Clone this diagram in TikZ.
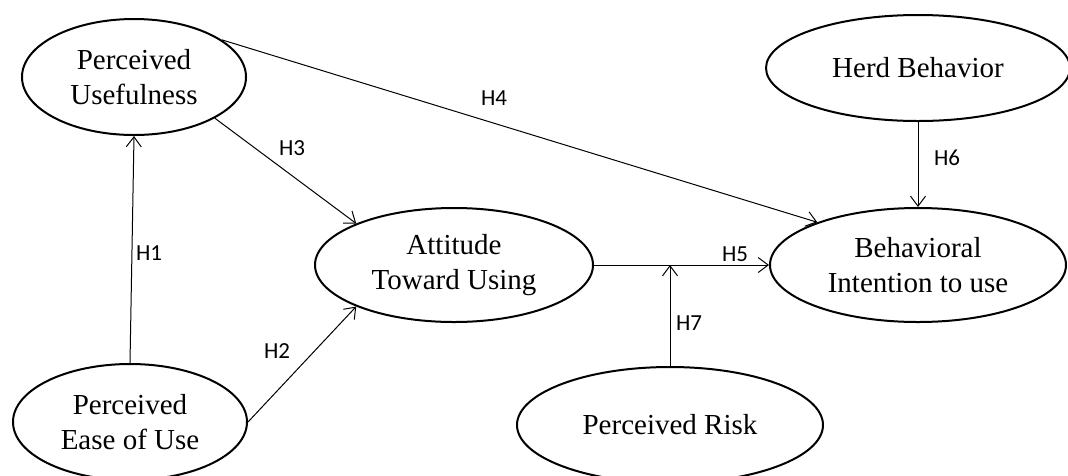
\documentclass[tikz,border=0pt]{standalone}
\usepackage{fontspec}
\setmainfont{Liberation Serif}
\newfontfamily\lblfont{Carlito}
\usetikzlibrary{arrows.meta, positioning, shapes.geometric}

\begin{document}
\begin{tikzpicture}[x=1pt, y=-1pt,
  construct/.style={draw, ellipse, line width=2pt, inner sep=0pt, align=center,
    font=\fontsize{29}{35}\selectfont},
  hyp/.style={-{Straight Barb[length=10pt,width=15pt]}, line width=1pt},
  lbl/.style={font=\lblfont\fontsize{23}{26}\selectfont, inner sep=0pt}]
\useasboundingbox (0,0) rectangle (1068,475);
\node[construct, minimum width=224pt, minimum height=116pt] (pu) at (134,77) {Perceived\\Usefulness};
\node[construct, minimum width=234pt, minimum height=116pt] (peou) at (130,422) {Perceived\\Ease of Use};
\node[construct, minimum width=278pt, minimum height=114pt] (att) at (454,265) {Attitude\\Toward Using};
\node[construct, minimum width=304pt, minimum height=106pt] (herd) at (918,68) {Herd Behavior};
\node[construct, minimum width=296pt, minimum height=114pt] (bi) at (918,265) {Behavioral\\Intention to use};
\node[construct, minimum width=306pt, minimum height=116pt] (pr) at (670,425) {Perceived Risk};
\coordinate (mod) at (pr.north |- att.east);

% hypotheses
\draw[hyp] (peou.north) -- (pu.south);
\draw[hyp] (peou.east) -- (att.203);
\draw[hyp] (pu.-27) -- (att.157);
\draw[hyp] (pu.23) -- (bi.157);
\draw[hyp] (att.east) -- (bi.west);
\draw[hyp] (herd.south) -- (bi.north);
\draw[hyp] (pr.north) -- (mod);

\node[lbl] (h1) at (149,253) {H1};
\node[lbl] (h2) at (277,351) {H2};
\node[lbl] (h3) at (292,148) {H3};
\node[lbl] (h4) at (494,98) {H4};
\node[lbl] (h5) at (735,254) {H5};
\node[lbl] (h6) at (947,158) {H6};
\node[lbl] (h7) at (689,323) {H7};
\end{tikzpicture}
\end{document}
